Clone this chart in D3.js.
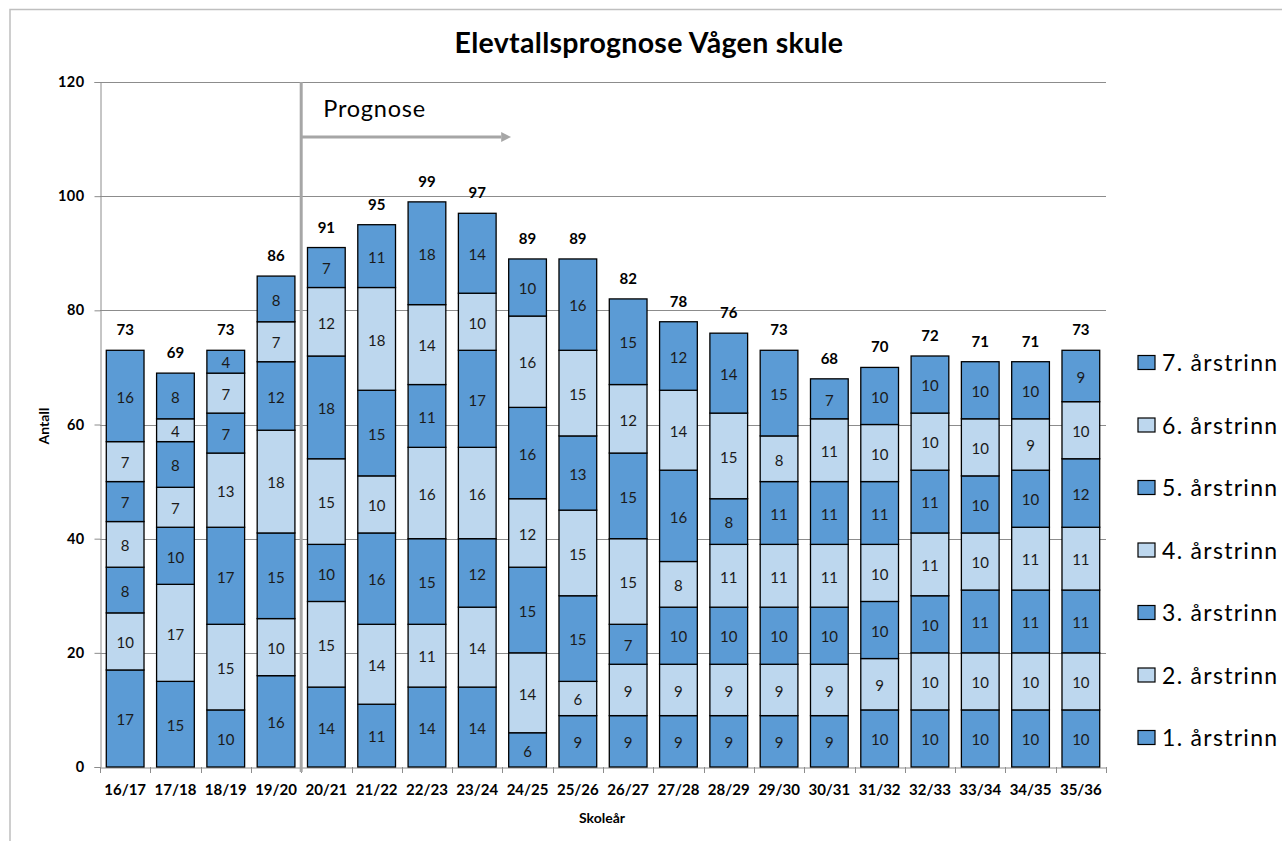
<!DOCTYPE html>
<html><head><meta charset="utf-8">
<script src="https://cdn.jsdelivr.net/npm/d3@7"></script>
<style>body{margin:0;background:#fff}svg{display:block}text{font-family:Lato,"Open Sans",sans-serif}</style>
</head><body>
<script>
const categories = ["16/17","17/18","18/19","19/20","20/21","21/22","22/23","23/24","24/25","25/26","26/27","27/28","28/29","29/30","30/31","31/32","32/33","33/34","34/35","35/36"];
const seriesNames = ["1. årstrinn","2. årstrinn","3. årstrinn","4. årstrinn","5. årstrinn","6. årstrinn","7. årstrinn"];
const trinn1 = [17,15,10,16,14,11,14,14,6,9,9,9,9,9,9,10,10,10,10,10];
const trinn2 = [10,17,15,10,15,14,11,14,14,6,9,9,9,9,9,9,10,10,10,10];
const trinn3 = [8,10,17,15,10,16,15,12,15,15,7,10,10,10,10,10,10,11,11,11];
const trinn4 = [8,7,13,18,15,10,16,16,12,15,15,8,11,11,11,10,11,10,11,11];
const trinn5 = [7,8,7,12,18,15,11,17,16,13,15,16,8,11,11,11,11,10,10,12];
const trinn6 = [7,4,7,7,12,18,14,10,16,15,12,14,15,8,11,10,10,10,9,10];
const trinn7 = [16,8,4,8,7,11,18,14,10,16,15,12,14,15,7,10,10,10,10,9];
const yTicks = [0,20,40,60,80,100,120];
const prognoseStart = "20/21";

const series = [trinn1,trinn2,trinn3,trinn4,trinn5,trinn6,trinn7];
const dark = "#5B9BD5", light = "#BDD7EE";
const colors = ["dark","light","dark","light","dark","light","dark"].map(c => c==="dark"?dark:light);

const W = 1282, H = 841;
const svg = d3.select("body").append("svg").attr("width", W).attr("height", H);
svg.append("rect").attr("x",10).attr("y",9.5).attr("width",W+20).attr("height",H+20)
  .attr("fill","none").attr("stroke","#BFBFBF").attr("stroke-width",1.5);

const m = {left:100, right:1106, top:82, bottom:767};
const x = d3.scaleBand().domain(categories).range([m.left, m.right]).paddingInner(0.25).paddingOuter(0.125);
const y = d3.scaleLinear().domain([0,120]).range([m.bottom, m.top]);

// gridlines
svg.append("g").selectAll("line").data(yTicks.filter(d=>d>0)).join("line")
  .attr("x1", m.left).attr("x2", m.right).attr("y1", d=>Math.round(y(d))+0.5).attr("y2", d=>Math.round(y(d))+0.5)
  .attr("stroke","#8C8C8C").attr("stroke-width",1);

// y axis
const yAxis = svg.append("g").attr("transform",`translate(${m.left+0.5},0)`)
  .call(d3.axisLeft(y).tickValues(yTicks).tickSize(6).tickPadding(10));
yAxis.select(".domain").attr("stroke","#8C8C8C");
yAxis.selectAll(".tick line").attr("stroke","#8C8C8C");
yAxis.selectAll("text").attr("font-size",14.5).attr("font-weight","bold").attr("fill","#000")
  .attr("letter-spacing",0.4);

// x axis
const xAxis = svg.append("g").attr("transform",`translate(0,${m.bottom+0.5})`)
  .call(d3.axisBottom(x).tickSize(0).tickPadding(17));
xAxis.select(".domain").attr("stroke","#8C8C8C");
xAxis.selectAll("text").attr("font-size",15).attr("font-weight","bold").attr("fill","#000");
const bounds = categories.map(c => x(c) - x.step()*x.paddingInner()/2).concat([m.right]);
svg.append("g").selectAll("line").data(bounds).join("line")
  .attr("x1",d=>Math.round(d)+0.5).attr("x2",d=>Math.round(d)+0.5)
  .attr("y1",m.bottom).attr("y2",m.bottom+6).attr("stroke","#8C8C8C");

// stacks
const rows = categories.map((c,i) => { const o = {cat:c}; seriesNames.forEach((s,j)=>o[s]=series[j][i]); return o; });
const stack = d3.stack().keys(seriesNames)(rows);
const g = svg.append("g");
stack.forEach((layer, li) => {
  const lg = g.append("g");
  lg.selectAll("rect").data(layer).join("rect")
    .attr("x", d=>x(d.data.cat)).attr("width", x.bandwidth())
    .attr("y", d=>y(d[1])).attr("height", d=>y(d[0])-y(d[1]))
    .attr("fill", colors[li]).attr("stroke","#000").attr("stroke-width",1.3);
  lg.selectAll("text").data(layer).join("text")
    .attr("x", d=>x(d.data.cat)+x.bandwidth()/2).attr("y", d=>(y(d[0])+y(d[1]))/2)
    .attr("dy","0.45em").attr("text-anchor","middle").attr("font-size",15).attr("fill","#1a1a1a")
    .text(d=>d[1]-d[0]);
});
// totals
svg.append("g").selectAll("text").data(rows).join("text")
  .attr("x", d=>x(d.cat)+x.bandwidth()/2)
  .attr("y", d=>y(d3.sum(seriesNames, s=>d[s])) - 15)
  .attr("text-anchor","middle").attr("font-size",15).attr("font-weight","bold").attr("fill","#000")
  .text(d=>d3.sum(seriesNames, s=>d[s]));

// prognose line and arrow
const px = x(prognoseStart) - x.step()*x.paddingInner()/2;
svg.append("line").attr("x1",px).attr("x2",px).attr("y1",m.top).attr("y2",m.bottom+5)
  .attr("stroke","#A6A6A6").attr("stroke-width",3);
svg.append("defs").append("marker").attr("id","arr").attr("viewBox","0 0 10 10").attr("refX",0).attr("refY",5)
  .attr("markerWidth",4).attr("markerHeight",3.3).attr("orient","auto").attr("markerUnits","strokeWidth")
  .append("path").attr("d","M0,0L10,5L0,10Z").attr("fill","#A6A6A6");
svg.append("line").attr("x1",px).attr("x2",px+200).attr("y1",137).attr("y2",137)
  .attr("stroke","#A6A6A6").attr("stroke-width",3).attr("marker-end","url(#arr)");
svg.append("text").attr("x",px+22).attr("y",117).attr("font-size",23.5).attr("letter-spacing",0.8)
  .attr("fill","#000").text("Prognose");

// titles
svg.append("text").attr("x",649).attr("y",53).attr("text-anchor","middle").attr("font-size",28.5)
  .attr("letter-spacing",0.3).attr("font-weight","bold").attr("fill","#000").text("Elevtallsprognose Vågen skule");
svg.append("text").attr("x",602).attr("y",823).attr("text-anchor","middle").attr("font-size",14)
  .attr("font-weight","bold").text("Skoleår");
svg.append("text").attr("transform","translate(49,426) rotate(-90)").attr("text-anchor","middle")
  .attr("font-size",14).attr("font-weight","bold").text("Antall");

// legend
const legendItems = seriesNames.map((s,i)=>({name:s, color:colors[i]})).reverse();
const lg = svg.append("g").selectAll("g").data(legendItems).join("g")
  .attr("transform",(d,i)=>`translate(1138,${362.5 + i*62.5})`);
lg.append("rect").attr("x",0).attr("y",-7).attr("width",17).attr("height",14)
  .attr("fill",d=>d.color).attr("stroke","#000").attr("stroke-width",1.2);
lg.append("text").attr("x",24).attr("y",8.5).attr("font-size",23).attr("letter-spacing",1.3)
  .attr("fill","#000").text(d=>d.name);
</script>
</body></html>
